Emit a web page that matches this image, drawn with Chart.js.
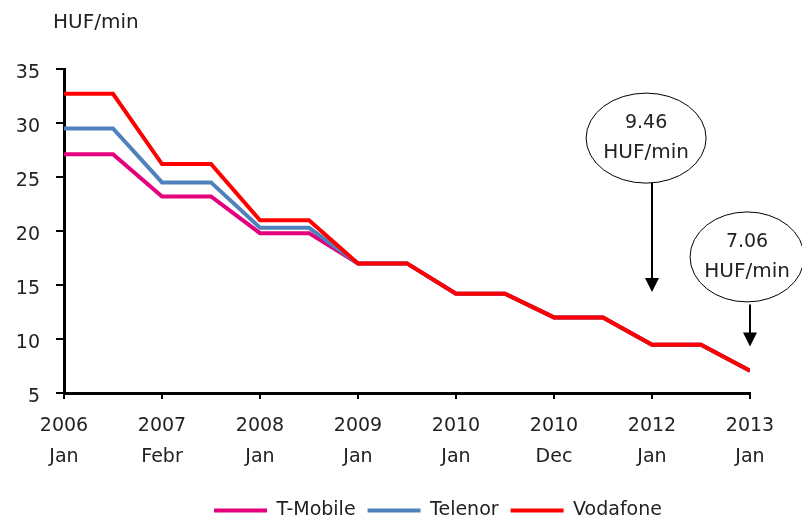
<!DOCTYPE html>
<html><head><meta charset="utf-8">
<script src="https://cdn.jsdelivr.net/npm/chart.js@4/dist/chart.umd.min.js"></script>
<style>html,body{margin:0;padding:0;background:#fff}</style>
</head><body>
<canvas id="c" width="802" height="520" style="width:802px;height:520px;display:block"></canvas>
<script>
// ---- data ----
const tickYears  = ['2006','2007','2008','2009','2010','2010','2012','2013'];
const tickMonths = ['Jan','Febr','Jan','Jan','Jan','Dec','Jan','Jan'];
const xPos       = [0,0.5,1,1.5,2,2.5,3,3.5,4,4.5,5,5.5,6,6.5,7];
const tMobile    = [27.1,27.1,23.2,23.2,19.8,19.8,17.0,17.0,14.2,14.2,12.0,12.0,9.46,9.46,7.06];
const telenor    = [29.5,29.5,24.5,24.5,20.3,20.3,17.0,17.0,14.2,14.2,12.0,12.0,9.46,9.46,7.06];
const vodafone   = [32.7,32.7,26.2,26.2,21.0,21.0,17.0,17.0,14.2,14.2,12.0,12.0,9.46,9.46,7.06];
const seriesNames = ['T-Mobile','Telenor','Vodafone'];
const unitLabel = 'HUF/min';
// callouts: value text, x position, ellipse centre (y value), arrow start/end (y values)
const calloutText   = ['9.46','7.06'];
const calloutX      = [6, 7];
const calloutCx     = [5.94, 6.97];
const calloutCy     = [28.6, 17.6];
const arrowFrom     = [24.45, 13.2];
const arrowTo       = [14.35, 9.3];

const FONT = 'DejaVu Sans';
const TXT = '#222';
const colors = ['#E4007C','#4F81BD','#FF0000'];
const seriesData = [tMobile, telenor, vodafone];

const datasets = seriesNames.map((n,i)=>({
  label: n,
  data: xPos.map((x,j)=>({x:x, y:seriesData[i][j]})),
  borderColor: colors[i],
  backgroundColor: colors[i],
  borderWidth: 4,
  pointRadius: 0,
  tension: 0,
  borderJoinStyle: 'miter',
  order: 3 - i
}));

const annot = {
  id: 'annot',
  afterDatasetsDraw(chart) {
    const {ctx, scales:{x, y}} = chart;
    ctx.save();
    ctx.fillStyle = TXT;
    ctx.font = '20px ' + FONT;
    ctx.textBaseline = 'middle';
    ctx.textAlign = 'left';
    ctx.fillText(unitLabel, 53, 23);
    const radii = [[60,45],[57,45]];
    for (let i=0;i<calloutText.length;i++){
      const cx = x.getPixelForValue(calloutCx[i]);
      const cy = y.getPixelForValue(calloutCy[i]);
      ctx.beginPath();
      ctx.ellipse(cx, cy, radii[i][0], radii[i][1], 0, 0, Math.PI*2);
      ctx.fillStyle = '#fff';
      ctx.fill();
      ctx.lineWidth = 1;
      ctx.strokeStyle = '#000';
      ctx.stroke();
      ctx.fillStyle = TXT;
      ctx.textAlign = 'center';
      ctx.textBaseline = 'middle';
      ctx.font = '19px ' + FONT;
      ctx.fillText(calloutText[i], cx, cy - 15);
      ctx.font = '20px ' + FONT;
      ctx.fillText(unitLabel, cx, cy + 15);
      const ax = x.getPixelForValue(calloutX[i]);
      const y0 = y.getPixelForValue(arrowFrom[i]);
      const y1 = y.getPixelForValue(arrowTo[i]);
      ctx.beginPath();
      ctx.moveTo(ax, y0);
      ctx.lineTo(ax, y1 - 12);
      ctx.lineWidth = 2;
      ctx.strokeStyle = '#000';
      ctx.stroke();
      ctx.beginPath();
      ctx.moveTo(ax - 7, y1 - 14);
      ctx.lineTo(ax + 7, y1 - 14);
      ctx.lineTo(ax, y1);
      ctx.closePath();
      ctx.fillStyle = '#000';
      ctx.fill();
    }
    ctx.restore();
  }
};

const legendShift = {
  id: 'legendShift',
  afterLayout(chart) {
    const lg = chart.legend;
    if (lg) { lg.left += 63; lg.right += 63; }
  }
};

new Chart(document.getElementById('c'), {
  type: 'line',
  data: { datasets },
  options: {
    responsive: false,
    animation: false,
    devicePixelRatio: 1,
    layout: { padding: { left: 0, right: 52, top: 69, bottom: -10 } },
    plugins: {
      title: { display: false },
      tooltip: { enabled: false },
      legend: {
        position: 'bottom',
        labels: {
          boxWidth: 53,
          boxHeight: 4,
          padding: 12,
          color: TXT,
          font: { family: FONT, size: 19 },
          sort: (a, b) => a.datasetIndex - b.datasetIndex,
          generateLabels(chart) {
            return Chart.defaults.plugins.legend.labels.generateLabels(chart).map(l => ({
              ...l, fillStyle: l.strokeStyle, lineWidth: 0
            }));
          }
        }
      }
    },
    scales: {
      x: {
        type: 'linear',
        min: 0, max: 7,
        afterFit(s) { s.height = 96; },
        border: { display: true, color: '#000', width: 3 },
        grid: { display: true, drawOnChartArea: false, drawTicks: true, tickLength: 6, color: '#000', lineWidth: 2 },
        ticks: {
          stepSize: 1,
          autoSkip: false,
          maxRotation: 0,
          padding: 11,
          color: TXT,
          font: { family: FONT, size: 19, lineHeight: 1.65 },
          callback: (v) => Number.isInteger(v) ? [tickYears[v], tickMonths[v]] : ''
        }
      },
      y: {
        min: 5, max: 35,
        afterFit(s) { s.width = 64; },
        border: { display: true, color: '#000', width: 3 },
        grid: { display: true, drawOnChartArea: false, drawTicks: true, tickLength: 8, color: '#000', lineWidth: 2 },
        ticks: {
          stepSize: 5,
          padding: 16,
          color: TXT,
          font: { family: FONT, size: 19, lineHeight: '8px' },
          callback: (v) => ['', String(v)]
        }
      }
    }
  },
  plugins: [annot, legendShift]
});
</script>
</body></html>
